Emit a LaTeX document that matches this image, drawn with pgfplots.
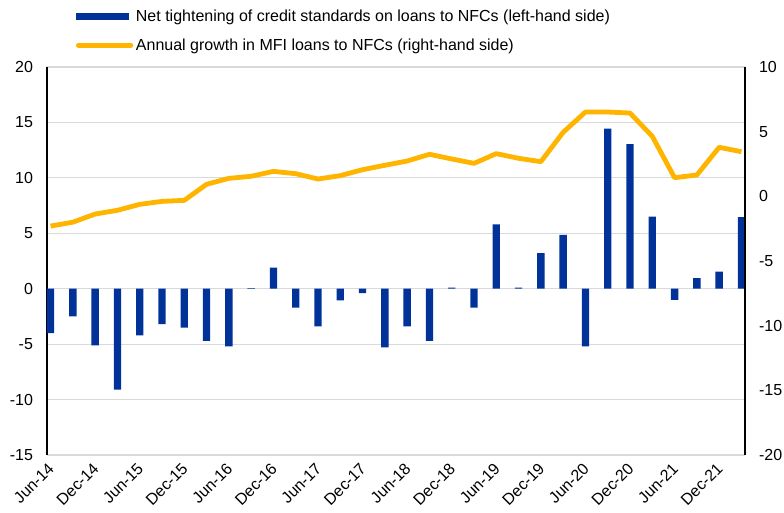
\documentclass[border=0pt]{standalone}
\usepackage{pgfplots}
\pgfplotsset{compat=1.18}
\usepackage{fontspec}
\setmainfont{Liberation Sans}
\definecolor{ecbblue}{HTML}{003299}
\definecolor{ecbyellow}{HTML}{FFB400}
\definecolor{gridgray}{HTML}{D9D9D9}
\begin{document}
\begin{tikzpicture}
\pgfplotsset{every axis/.append style={font=\fontsize{12}{14}\selectfont}}
\begin{axis}[
  scale only axis, width=523.5pt, height=291pt,
  xmin=-0.16, xmax=31.16, ymin=-15, ymax=20,
  axis lines*=left,
  x axis line style={draw=none},
  y axis line style={black, line width=0.8pt},
  ytick={-15,-10,-5,0,5,10,15,20},
  yticklabels={-15,-10,-5,0,5,10,15,20},
  ymajorgrids, grid style={gridgray, line width=0.8pt},
  xtick={0,2,...,30},
  xticklabels={Jun-14,Dec-14,Jun-15,Dec-15,Jun-16,Dec-16,Jun-17,Dec-17,Jun-18,Dec-18,Jun-19,Dec-19,Jun-20,Dec-20,Jun-21,Dec-21},
  xticklabel style={xshift=-2.5pt, rotate=45, anchor=north east, inner sep=0pt},
  xticklabel shift=5pt,
  yticklabel style={xshift=-7pt},
  major tick length=0pt,
  clip=false,
]
\addplot[ybar, fill=ecbblue, draw=none, bar width=5.5pt] coordinates {
(0,-4.0) (1,-2.5) (2,-5.1) (3,-9.1) (4,-4.2) (5,-3.2) (6,-3.5) (7,-4.7)
(8,-5.2) (9,0.05) (10,1.9) (11,-1.7) (12,-3.4) (13,-1.05) (14,-0.4) (15,-5.3)
(16,-3.4) (17,-4.7) (18,0.1) (19,-1.7) (20,5.8) (21,0.1) (22,3.2) (23,4.85)
(24,-5.2) (25,14.45) (26,13.05) (27,6.5) (28,-1.0) (29,0.95) (30,1.55) (31,6.45)
};
\end{axis}
\begin{axis}[
  scale only axis, width=523.5pt, height=291pt,
  xmin=-0.16, xmax=31.16, ymin=-20, ymax=10,
  axis y line*=right, axis x line=none,
  y axis line style={black, line width=0.8pt},
  ytick={-20,-15,-10,-5,0,5,10},
  yticklabels={-20,-15,-10,-5,0,5,10},
  yticklabel style={xshift=7pt},
  major tick length=0pt,
  xtick=\empty,
  clip=false,
  legend cell align=left,
  legend style={draw=none, fill=none, at={(axis description cs:0,1)}, anchor=south west,
    xshift=18.5pt, yshift=7pt, row sep=7.5pt, font=\fontsize{12}{14}\selectfont,
    /tikz/every even column/.append style={column sep=2pt}},
]
\addlegendimage{legend image code/.code={\fill[ecbblue] (0pt,-2.5pt) rectangle (39pt,2.5pt);}}
\addlegendentry{Net tightening of credit standards on loans to NFCs (left-hand side)}
\addplot[ecbyellow, line width=3.6pt, line join=round,
  legend image code/.code={\draw[ecbyellow, line width=4pt, line cap=round] (1.5pt,0pt) -- (40.5pt,0pt);}] coordinates {
(0,-2.3) (1,-2.0) (2,-1.37) (3,-1.08) (4,-0.62) (5,-0.39) (6,-0.31) (7,0.93)
(8,1.39) (9,1.55) (10,1.93) (11,1.75) (12,1.34) (13,1.6) (14,2.06) (15,2.4)
(16,2.73) (17,3.25) (18,2.89) (19,2.55) (20,3.3) (21,2.94) (22,2.68) (23,4.95)
(24,6.52) (25,6.52) (26,6.44) (27,4.64) (28,1.44) (29,1.65) (30,3.79) (31,3.45)
};
\addlegendentry{Annual growth in MFI loans to NFCs (right-hand side)}
\end{axis}
\pgfresetboundingbox
\path[use as bounding box] (-35.25pt,-43.5pt) rectangle (552.75pt,341.25pt);
\end{tikzpicture}
\end{document}
